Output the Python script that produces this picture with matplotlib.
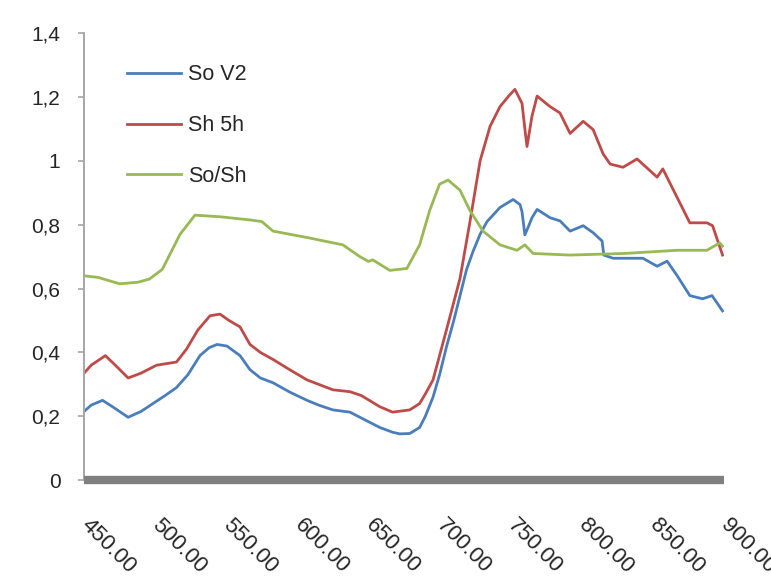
#!/usr/bin/env python3
"""
plot.py — Reflectance-style spectra of two samples (So V2, Sh 5h) and their
ratio So/Sh over 450–900, drawn in the look of an old Excel line chart.

Output
------
out.png  (771 x 582 px)
"""

import matplotlib
matplotlib.use("Agg")  # headless
import matplotlib.pyplot as plt
import matplotlib.ticker as mticker

# ---------------------------------------------------------------------------
# Data
# ---------------------------------------------------------------------------

SO_V2_X = [450, 455, 463, 470, 481, 490, 498.5, 507, 515, 523, 531.5, 538,
           543.5, 550.5, 559.7, 566.7, 574, 582.9, 595, 606.8, 615, 625, 637,
           647, 658, 667, 672, 679, 686, 690, 695.4, 700, 705, 710, 714.4, 719,
           723.6, 728.5, 733.4, 742.5, 751.7, 756.6, 758, 760, 763, 765, 768.6,
           777.7, 784.7, 791.8, 801, 808, 814.3, 815.5, 822, 843, 853, 860,
           867, 876, 885, 891.6, 899]
SO_V2_Y = [0.215, 0.235, 0.25, 0.23, 0.197, 0.215, 0.24, 0.265, 0.29, 0.33,
           0.39, 0.415, 0.425, 0.42, 0.39, 0.346, 0.32, 0.305, 0.275, 0.25,
           0.235, 0.22, 0.213, 0.19, 0.165, 0.15, 0.145, 0.146, 0.165, 0.2,
           0.26, 0.33, 0.42, 0.5, 0.578, 0.66, 0.717, 0.77, 0.81, 0.854, 0.879,
           0.863, 0.84, 0.768, 0.8, 0.822, 0.848, 0.822, 0.812, 0.78, 0.797,
           0.775, 0.749, 0.705, 0.695, 0.695, 0.67, 0.686, 0.641, 0.578, 0.568,
           0.578, 0.53]

SH_5H_X = [450, 455, 465, 472, 481, 490, 501, 515, 522, 530, 538.6, 545.6,
           552, 559.7, 566.7, 574, 582.9, 595, 606.8, 625, 637, 645, 658, 667,
           679, 686, 690, 695.4, 700, 705, 714.4, 721.4, 728.5, 735.5, 742.5,
           749, 753, 758, 760, 761.5, 765, 768.6, 777.7, 784.7, 791.8, 801,
           808, 815, 820, 829, 838.9, 853, 857, 867, 876, 888, 892, 899]
SH_5H_Y = [0.335, 0.36, 0.39, 0.36, 0.32, 0.335, 0.36, 0.37, 0.41, 0.47,
           0.515, 0.52, 0.5, 0.48, 0.425, 0.4, 0.378, 0.345, 0.314, 0.283,
           0.277, 0.265, 0.23, 0.213, 0.22, 0.24, 0.27, 0.314, 0.39, 0.473,
           0.632, 0.81, 1.0, 1.108, 1.17, 1.205, 1.224, 1.18, 1.1, 1.045, 1.14,
           1.203, 1.17, 1.15, 1.086, 1.124, 1.098, 1.022, 0.99, 0.98, 1.006,
           0.949, 0.975, 0.886, 0.806, 0.806, 0.797, 0.705]

RATIO_X = [450, 460, 475, 488, 496, 505, 517.5, 528, 545.6, 566.7, 575, 582.9,
           606.8, 632, 644, 650, 653, 665, 677, 686, 693, 700, 706, 714.4,
           721.4, 730.6, 742.5, 754.5, 760, 765.8, 791.8, 830, 867, 888, 897,
           899]
RATIO_Y = [0.64, 0.635, 0.615, 0.62, 0.63, 0.66, 0.77, 0.83, 0.825, 0.815,
           0.81, 0.78, 0.76, 0.737, 0.70, 0.685, 0.69, 0.657, 0.663, 0.737,
           0.844, 0.927, 0.94, 0.908, 0.844, 0.78, 0.737, 0.72, 0.737, 0.71,
           0.705, 0.71, 0.72, 0.72, 0.743, 0.733]

SERIES_LABELS = ["So V2", "Sh 5h", "So/Sh"]
SERIES_COLORS = ["#4A7EBB", "#BE4B48", "#98B954"]

X_TICKS = [450, 500, 550, 600, 650, 700, 750, 800, 850, 900]
Y_TICKS = [0, 0.2, 0.4, 0.6, 0.8, 1.0, 1.2, 1.4]

FONT = "Liberation Sans"
TEXT_COLOR = "#262626"


def comma_decimal(value, _pos):
    """Format y ticks the European way: 0,2 instead of 0.2."""
    if abs(value) < 1e-9:
        return "0"
    if abs(value - round(value)) < 1e-9:
        return f"{int(round(value))}"
    return f"{value:.1f}".replace(".", ",")


def main() -> None:
    plt.rcParams["font.family"] = [FONT, "DejaVu Sans"]

    fig = plt.figure(figsize=(7.71, 5.82), dpi=100)
    ax = fig.add_axes([0.109, 0.175, 0.830, 0.768])

    series = [
        (SO_V2_X, SO_V2_Y),
        (SH_5H_X, SH_5H_Y),
        (RATIO_X, RATIO_Y),
    ]
    for (xs, ys), label, color in zip(series, SERIES_LABELS, SERIES_COLORS):
        ax.plot(xs, ys, color=color, linewidth=2.0, label=label,
                solid_joinstyle="round")

    ax.set_xlim(450, 900)
    ax.set_ylim(0, 1.4)

    # y axis: thin grey line with outward ticks and comma decimals
    ax.set_yticks(Y_TICKS)
    ax.yaxis.set_major_formatter(mticker.FuncFormatter(comma_decimal))
    ax.tick_params(axis="y", direction="out", length=4, width=1.2,
                   color="#A6A6A6", pad=13, labelsize=15,
                   labelcolor=TEXT_COLOR)

    # x axis: thick grey bar, diagonal labels (the last one runs off the
    # right edge, as in the original)
    ax.set_xticks(X_TICKS)
    ax.set_xticklabels([f"{t:.2f}" for t in X_TICKS])
    ax.tick_params(axis="x", length=0, pad=30, labelsize=16,
                   labelcolor=TEXT_COLOR)
    for lbl in ax.get_xticklabels():
        lbl.set_rotation(-45)
        lbl.set_rotation_mode("anchor")
        lbl.set_ha("left")
        lbl.set_va("center")

    ax.spines[["top", "right"]].set_visible(False)
    ax.spines["left"].set_color("#A6A6A6")
    ax.spines["left"].set_linewidth(1.4)
    ax.spines["bottom"].set_color("#808080")
    ax.spines["bottom"].set_linewidth(6)
    ax.spines["bottom"].set_capstyle("butt")
    ax.grid(False)

    ax.legend(
        loc="upper left",
        bbox_to_anchor=(0.067, 0.93),
        frameon=False,
        fontsize=15.5,
        handlelength=2.5,
        handletextpad=0.35,
        labelspacing=1.38,
        borderpad=0,
        borderaxespad=0,
        labelcolor=TEXT_COLOR,
    )

    fig.savefig("out.png", dpi=100, facecolor="white")
    plt.close(fig)


if __name__ == "__main__":
    main()
